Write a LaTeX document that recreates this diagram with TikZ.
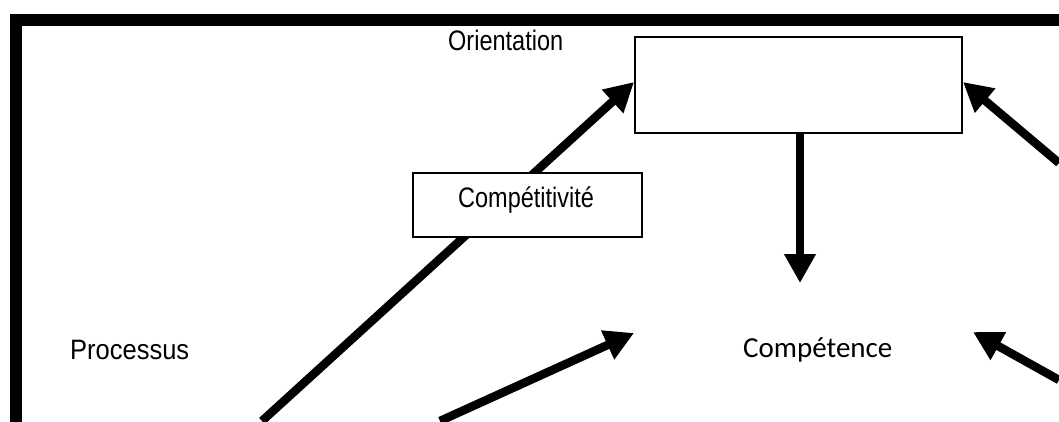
\documentclass[tikz,border=0pt]{standalone}
\usepackage{fontspec}
\setmainfont{Liberation Sans}
\newfontfamily\calib{Carlito}
\usetikzlibrary{arrows.meta}

\begin{document}
\begin{tikzpicture}
[x=1pt,y=-1pt,
 txt/.style={inner sep=0pt,anchor=base west,font=\fontsize{23.5}{28}\selectfont},
 frame/.style={draw,line width=2pt},
 bigarrow/.style={line width=8.5pt,-{Triangle[length=29pt,width=30pt]}}]
\useasboundingbox (0,0) rectangle (1059,421);
\clip (0,0) rectangle (1059,421);
% outer border
\draw[line width=12pt,miter limit=10] (16,440) -- (16,20) -- (1080,20);
\node[frame,minimum width=327pt,minimum height=96pt] (orient) at (798.5,85) {};
\node[txt] (orientlbl) at (448,50) {\scalebox{1}[1.2]{Orientation}};
\node[txt,font=\fontsize{25.5}{30}\selectfont] (process) at (70,359) {\scalebox{1}[1.1]{Processus}};
\node[inner sep=0pt,anchor=base west,font=\calib\fontsize{29}{34}\selectfont] (compet) at (743,357) {Compétence};
\coordinate (p1) at (262,421);
\coordinate (p2) at (440,421);
\coordinate (q2) at (634,333);
\coordinate (q3) at (800,283);
\coordinate (r1) at (1059,163);
\coordinate (r2) at (1059,380);
\coordinate (q4) at (973,332);
\draw[bigarrow] (p1) -- (orient.west|-0,82);
\draw[bigarrow] (p2) -- (q2);
\draw[bigarrow] (orient.south-|q3) -- (q3);
\draw[bigarrow] (r1) -- (orient.east|-0,82);
\draw[bigarrow] (r2) -- (q4);
\node[draw,line width=1.5pt,fill=white,minimum width=229pt,minimum height=64pt] (comp) at (527.5,205) {};
\node[txt] (complbl) at (458,207) {\scalebox{1}[1.2]{Compétitivité}};
\end{tikzpicture}
\end{document}
